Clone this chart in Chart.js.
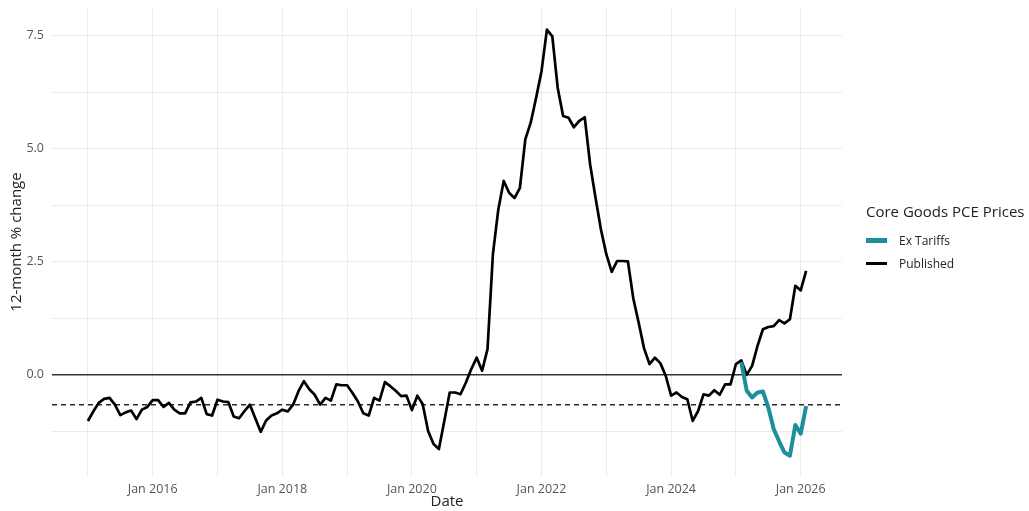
<!DOCTYPE html>
<html>
<head>
<meta charset="utf-8">
<script src="https://cdn.jsdelivr.net/npm/chart.js@4"></script>
<style>
  html, body { margin: 0; padding: 0; background: #fff; }
  #wrap { position: relative; width: 1029px; height: 511px; }
  #legend { position: absolute; left: 866px; top: 201px; font-family: "Open Sans", sans-serif; color: #222; }
  #legend .title { font-size: 15px; line-height: 20px; }
  #legend .item { display: flex; align-items: center; height: 23px; font-size: 12px; }
  #legend .item.first { margin-top: 8px; }
  #legend .key { width: 21px; margin-right: 12px; }
</style>
</head>
<body>
<div id="wrap">
  <canvas id="myChart" width="1029" height="511"></canvas>
  <div id="legend"></div>
</div>
<script>
// monthly series, first point = Jan 2015
const firstYear = 2015;
const seriesNames = ['Ex Tariffs', 'Published'];
const seriesColors = ['#1b8f9a', '#000000'];

const publishedValues = [
    -1.02, -0.81, -0.62, -0.53, -0.51, -0.66, -0.89, -0.83, -0.79, -0.98, -0.77, -0.71, // 2015
    -0.56, -0.56, -0.71, -0.62, -0.77, -0.85, -0.85, -0.61, -0.59, -0.51, -0.87, -0.90, // 2016
    -0.55, -0.59, -0.60, -0.92, -0.96, -0.80, -0.66, -0.96, -1.26, -1.01, -0.90, -0.85, // 2017
    -0.77, -0.81, -0.66, -0.36, -0.14, -0.32, -0.44, -0.66, -0.51, -0.57, -0.21, -0.23, // 2018
    -0.23, -0.40, -0.59, -0.85, -0.90, -0.51, -0.57, -0.16, -0.25, -0.35, -0.47, -0.46, // 2019
    -0.78, -0.46, -0.65, -1.24, -1.53, -1.64, -1.02, -0.39, -0.39, -0.43, -0.17, 0.13,  // 2020
    0.38, 0.09, 0.57, 2.67, 3.66, 4.29, 4.03, 3.91, 4.14, 5.21, 5.58, 6.13,             // 2021
    6.72, 7.64, 7.49, 6.35, 5.73, 5.69, 5.48, 5.62, 5.70, 4.66, 3.92, 3.22,             // 2022
    2.67, 2.28, 2.52, 2.52, 2.51, 1.69, 1.15, 0.58, 0.24, 0.38, 0.26, -0.02,            // 2023
    -0.46, -0.39, -0.49, -0.54, -1.02, -0.80, -0.43, -0.46, -0.34, -0.44, -0.21, -0.21, // 2024
    0.24, 0.32, 0.00, 0.20, 0.64, 1.01, 1.06, 1.08, 1.21, 1.14, 1.23, 1.97,             // 2025
    1.87, 2.30                                                                          // 2026
];

// Ex Tariffs starts Feb 2025 (month index 121)
const exTariffsStart = 121;
const exTariffsValues = [0.28, -0.35, -0.50, -0.39, -0.37, -0.72, -1.20, -1.47, -1.72, -1.79, -1.11, -1.30, -0.69];

const zeroLevel = 0;
const dashedLevel = -0.66;

const xMin = 2014.446, xMax = 2026.637;
const yMin = -2.26, yMax = 8.14;

function toPoints(values, offset) {
    return values.map((v, i) => ({ x: firstYear + (offset + i) / 12, y: v }));
}

const fontFamily = '"Open Sans", "Noto Sans", sans-serif';

const ctx = document.getElementById('myChart').getContext('2d');
new Chart(ctx, {
    type: 'line',
    data: {
        datasets: [
            {
                label: seriesNames[0],
                data: toPoints(exTariffsValues, exTariffsStart),
                borderColor: seriesColors[0],
                borderWidth: 4,
                order: 0
            },
            {
                label: seriesNames[1],
                data: toPoints(publishedValues, 0),
                borderColor: seriesColors[1],
                borderWidth: 2.7,
                order: 1
            },
            {
                label: 'zero',
                data: [{ x: xMin, y: zeroLevel }, { x: xMax, y: zeroLevel }],
                borderColor: '#333333',
                borderWidth: 1.5,
                order: 3
            },
            {
                label: 'dashed',
                data: [{ x: xMin, y: dashedLevel }, { x: xMax, y: dashedLevel }],
                borderColor: '#2a2a2a',
                borderWidth: 1.4,
                borderDash: [5, 4],
                order: 2
            }
        ]
    },
    options: {
        responsive: false,
        animation: false,
        elements: { point: { radius: 0 }, line: { tension: 0, borderCapStyle: 'butt', borderJoinStyle: 'round' } },
        layout: { padding: { top: 7, right: 187, left: 0, bottom: 0 } },
        plugins: { legend: { display: false }, tooltip: { enabled: false } },
        scales: {
            x: {
                type: 'linear',
                min: xMin,
                max: xMax,
                border: { display: false },
                grid: { color: '#ebebeb', lineWidth: 1, drawTicks: false },
                ticks: {
                    stepSize: 1,
                    includeBounds: false,
                    maxTicksLimit: 30,
                    autoSkip: false,
                    maxRotation: 0,
                    padding: 5,
                    color: '#555555',
                    font: { family: fontFamily, size: 12.5 },
                    callback: v => (Math.round(v) % 2 === 0 ? 'Jan ' + Math.round(v) : '')
                },
                title: {
                    display: true,
                    text: 'Date',
                    color: '#222222',
                    font: { family: fontFamily, size: 15 },
                    padding: { top: 0, bottom: 0 }
                },
                afterFit: s => { s.height = 34; s.paddingLeft = 0; s.paddingRight = 0; }
            },
            y: {
                min: yMin,
                max: yMax,
                border: { display: false },
                grid: { color: '#ebebeb', lineWidth: 1, drawTicks: false },
                ticks: {
                    stepSize: 1.25,
                    includeBounds: false,
                    maxTicksLimit: 30,
                    autoSkip: false,
                    padding: 8,
                    color: '#555555',
                    font: { family: fontFamily, size: 12.5 },
                    callback: v => (Math.abs(v % 2.5) < 1e-9 ? v.toFixed(1) : '')
                },
                title: {
                    display: true,
                    text: '12-month % change',
                    color: '#222222',
                    font: { family: fontFamily, size: 15 },
                    padding: { top: 8, bottom: 0 }
                },
                afterFit: s => { s.width = 52; s.paddingTop = 0; s.paddingBottom = 0; }
            }
        }
    }
});

// legend in ggplot style
const legend = document.getElementById('legend');
legend.innerHTML = '<div class="title">Core Goods PCE Prices</div>' +
    seriesNames.map((name, i) =>
        `<div class="item${i === 0 ? ' first' : ''}"><div class="key" style="height:${i === 0 ? 5 : 3}px;background:${seriesColors[i]}"></div>${name}</div>`
    ).join('');
</script>
</body>
</html>
